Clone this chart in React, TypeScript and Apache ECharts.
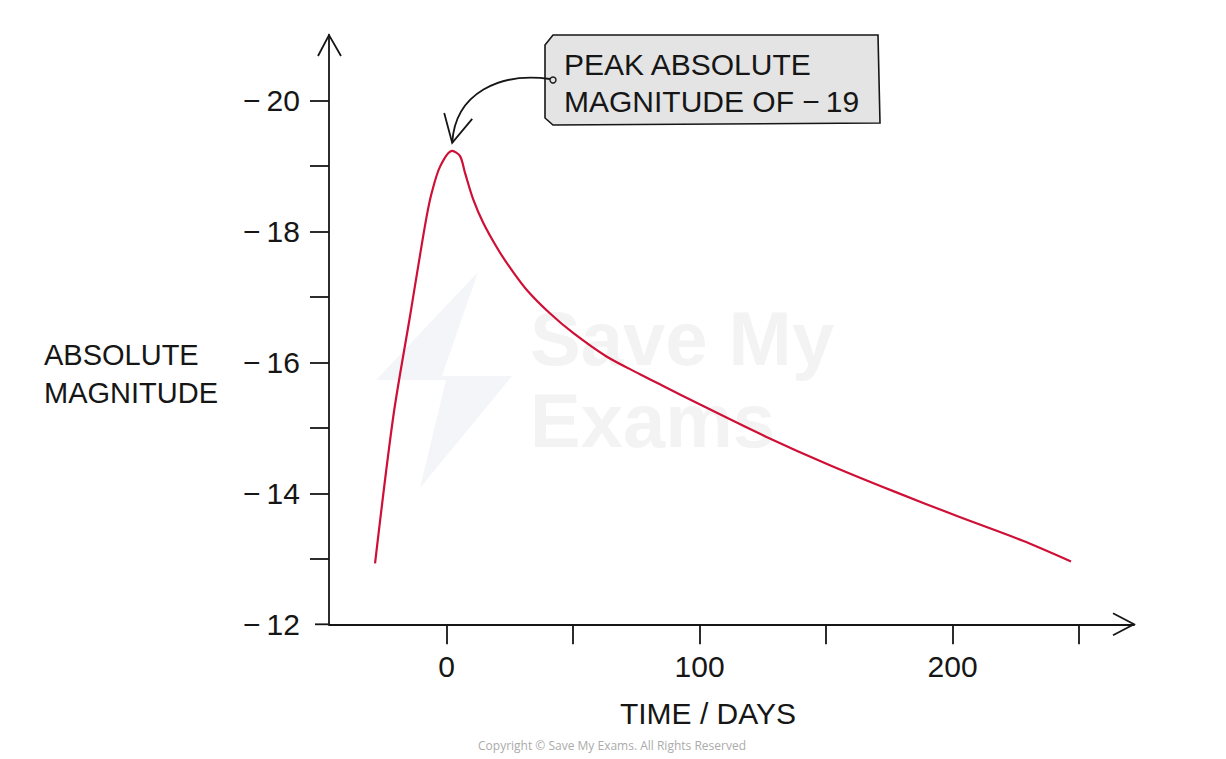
import React, { useEffect, useRef } from "react";
import * as echarts from "echarts";

// Data (time in days, absolute magnitude)
const days: number[] = [-28.3, -21.1, -14.5, -10.6, -7.9, -5.9, -2.6, 2.2, 5.3, 7.3, 10.5, 14.5, 20.4, 25.0, 31.6, 40.8, 50.0, 63.2, 76.4, 85.6, 100, 126, 151.5, 176.8, 202, 227.5, 246.8];
const magnitude: number[] = [-12.93, -15.17, -16.7, -17.62, -18.23, -18.59, -18.99, -19.23, -19.15, -18.89, -18.49, -18.13, -17.72, -17.45, -17.11, -16.75, -16.45, -16.09, -15.82, -15.64, -15.36, -14.87, -14.43, -14.03, -13.65, -13.28, -12.96];

const xTicks: number[] = [0, 50, 100, 150, 200, 250];
const xLabels: number[] = [0, 100, 200];
const yTicks: number[] = [-20, -19, -18, -17, -16, -15, -14, -13];
const yLabels: number[] = [-20, -18, -16, -14, -12];

const xMin = -46.5;
const xMax = 271.7;
const yMin = -21;
const yMax = -12;
const peak = { day: 2.2, mag: -19.23 };

const FONT = "'Liberation Sans', Arial, sans-serif";
const INK = "#161616";

export default function App() {
  const ref = useRef<HTMLDivElement>(null);
  useEffect(() => {
    if (!ref.current) return;
    const chart = echarts.init(ref.current, undefined, { renderer: "svg" });
    chart.setOption({
      animation: false,
      backgroundColor: "#ffffff",
      grid: { left: 329, right: 92, top: 35, bottom: 134.7 },
      xAxis: {
        type: "value",
        min: xMin,
        max: xMax,
        splitLine: { show: false },
        axisLine: { show: true, onZero: false, lineStyle: { color: INK, width: 1.8 } },
        axisTick: { show: true, customValues: xTicks, length: 20, lineStyle: { color: INK, width: 1.8 } },
        axisLabel: {
          customValues: xLabels,
          margin: 27,
          fontSize: 30,
          fontFamily: FONT,
          color: INK,
        },
      },
      yAxis: {
        type: "value",
        min: yMin,
        max: yMax,
        inverse: true,
        splitLine: { show: false },
        axisLine: { show: true, onZero: false, lineStyle: { color: INK, width: 1.8 } },
        axisTick: { show: true, customValues: yTicks, length: 19, lineStyle: { color: INK, width: 1.8 } },
        axisLabel: {
          customValues: yLabels,
          margin: 29,
          fontSize: 30,
          fontFamily: FONT,
          color: INK,
          formatter: (v: number) => (v < 0 ? "\u2212\u2009" + Math.abs(v) : String(v)),
        },
      },
      series: [
        {
          type: "line",
          data: days.map((d, i) => [d, magnitude[i]]),
          smooth: 0.3,
          showSymbol: false,
          symbol: "none",
          lineStyle: { color: "#cf1036", width: 2.2 },
          z: 3,
        },
      ],
    });

    const p = (x: number, y: number) => chart.convertToPixel({ gridIndex: 0 }, [x, y]) as number[];
    const origin = p(xMin, yMax);
    const yTop = p(xMin, yMin);
    const xEnd = p(xMax, yMax);
    const tip = p(peak.day, peak.mag);
    const tx = tip[0];
    const ty = tip[1] - 8;

    const lineStyle = { stroke: INK, lineWidth: 1.8, fill: "none" };

    chart.setOption({
      graphic: [
        // watermark
        {
          type: "polygon",
          silent: true,
          z: 0,
          shape: { points: [[478, 272], [376, 380], [446, 380], [420, 488], [512, 376], [442, 376]] },
          style: { fill: "#f4f5f9" },
        },
        {
          type: "text",
          silent: true,
          z: 0,
          x: 530,
          y: 300,
          style: { text: "Save My", font: `bold 76px ${FONT}`, fill: "#f3f3f4" },
        },
        {
          type: "text",
          silent: true,
          z: 0,
          x: 530,
          y: 382,
          style: { text: "Exams", font: `bold 76px ${FONT}`, fill: "#f3f3f4" },
        },
        // x-axis extension left of y axis
        { type: "line", z: 10, shape: { x1: origin[0] - 14, y1: origin[1], x2: origin[0], y2: origin[1] }, style: lineStyle },
        // y-axis arrow
        {
          type: "polyline",
          z: 10,
          shape: { points: [[yTop[0] - 11, yTop[1] + 21], [yTop[0], yTop[1]], [yTop[0] + 12, yTop[1] + 21]] },
          style: lineStyle,
        },
        // x-axis arrow
        {
          type: "polyline",
          z: 10,
          shape: { points: [[xEnd[0] - 21, xEnd[1] - 11], [xEnd[0], xEnd[1]], [xEnd[0] - 21, xEnd[1] + 11]] },
          style: lineStyle,
        },
        // axis names
        {
          type: "text",
          z: 10,
          x: 708,
          y: 713,
          style: { text: "TIME / DAYS", font: `30px ${FONT}`, fill: INK, align: "center", verticalAlign: "middle" },
        },
        {
          type: "text",
          z: 10,
          x: 44,
          y: 374,
          style: {
            text: "ABSOLUTE\nMAGNITUDE",
            font: `29px ${FONT}`,
            lineHeight: 38,
            fill: INK,
            align: "left",
            verticalAlign: "middle",
          },
        },
        // annotation tag
        {
          type: "polygon",
          z: 10,
          shape: { points: [[553, 35], [878, 35], [880, 123], [553, 125], [545, 118], [545, 45]] },
          style: { fill: "#e4e4e4", stroke: INK, lineWidth: 1.6 },
        },
        {
          type: "text",
          z: 11,
          x: 564,
          y: 83,
          style: {
            text: "PEAK ABSOLUTE\nMAGNITUDE OF \u2212\u200919",
            font: `30px ${FONT}`,
            lineHeight: 37,
            fill: INK,
            align: "left",
            verticalAlign: "middle",
          },
        },
        {
          type: "bezierCurve",
          z: 11,
          shape: { x1: 550, y1: 79, cpx1: 500, cpy1: 72, cpx2: tx + 3, cpy2: ty - 50, x2: tx, y2: ty },
          style: lineStyle,
        },
        {
          type: "polyline",
          z: 11,
          shape: { points: [[tx - 8, ty - 30], [tx, ty], [tx + 20, ty - 24]] },
          style: lineStyle,
        },
        {
          type: "circle",
          z: 12,
          shape: { cx: 553, cy: 80, r: 3 },
          style: { fill: "#e4e4e4", stroke: INK, lineWidth: 1.4 },
        },
        // copyright
        {
          type: "text",
          z: 10,
          x: 612,
          y: 745,
          style: {
            text: "Copyright \u00a9 Save My Exams. All Rights Reserved",
            font: `12px 'Open Sans', ${FONT}`,
            fill: "#ababab",
            align: "center",
            verticalAlign: "middle",
          },
        },
      ],
    });

    return () => chart.dispose();
  }, []);

  return (
    <div
      ref={ref}
      style={{ position: "fixed", left: 0, top: 0, width: 1226, height: 759, background: "#fff" }}
    />
  );
}
